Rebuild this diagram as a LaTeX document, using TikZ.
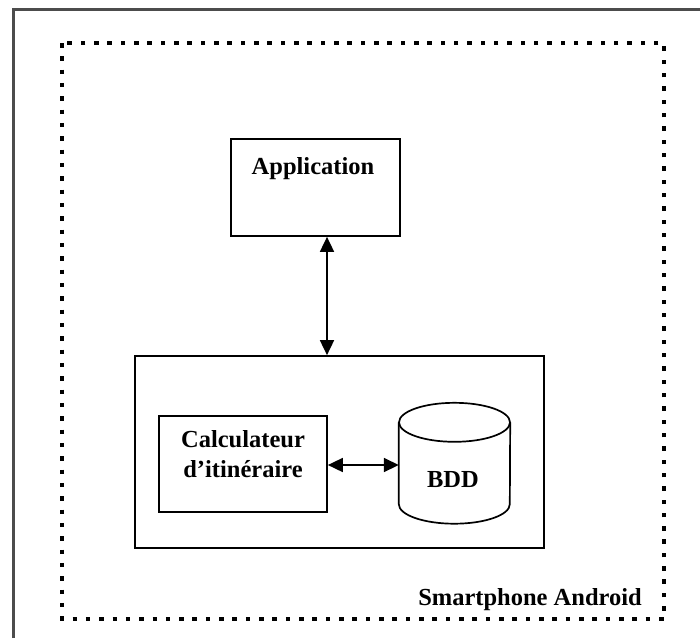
\documentclass[tikz,border=0pt]{standalone}
\usepackage{fontspec}
\setmainfont{Liberation Serif}
\usetikzlibrary{arrows.meta}
\begin{document}
\begin{tikzpicture}[x=1pt,y=1pt,
 box/.style={draw, line width=1.7pt, inner sep=0pt},
 lbl/.style={font=\fontsize{24.5}{30}\selectfont\bfseries, inner sep=0pt, anchor=base},
 link/.style={line width=1.7pt, {Triangle[length=15pt,width=14pt]}-{Triangle[length=15pt,width=14pt]}},
 cyl/.style={line width=1.7pt},
]
\useasboundingbox (0,0) rectangle (700,-638);
% outer frame (clipped at right and bottom)
\draw[line width=3pt, color=black!70] (13,-638) -- (13,-9) -- (700,-9);
% phone boundary
\draw[line width=4.5pt, dash pattern=on 4.5pt off 8.83pt] (62,-43) rectangle (664,-619);
% boxes
\node[box, minimum width=169pt, minimum height=97pt] (app) at (315.5,-187.5) {};
\node[box, minimum width=409pt, minimum height=192pt] (core) at (339.5,-452) {};
\node[box, minimum width=168pt, minimum height=96pt] (calc) at (243,-464) {};
\node[inner sep=0pt, minimum width=111pt, minimum height=120.5pt] (bdd) at (454.5,-463.25) {};
\draw[cyl] (bdd.north west) ++(0,-19.5) -- ([yshift=19.5pt]bdd.south west)
  arc[start angle=180, end angle=360, x radius=55.5, y radius=19.5]
  -- ([yshift=-19.5pt]bdd.north east);
\draw[cyl] ([yshift=-19.5pt]bdd.north) ellipse [x radius=55.5, y radius=19.5];
% texts
\node[lbl] (tapp) at (313,-174) {Application};
\node[lbl] (tcalc1) at (243,-447) {Calculateur};
\node[lbl] (tcalc2) at (243,-477) {d’itinéraire};
\node[lbl] (tbdd) at (453,-487) {BDD};
\node[lbl] (tphone) at (530,-605) {Smartphone Android};
% connectors
\draw[link] ([xshift=11.5pt]app.south) -- ([xshift=11.5pt]app.south |- core.north);
\draw[link] ([yshift=-1pt]calc.east) -- ([yshift=-1pt]calc.east -| bdd.west);
\end{tikzpicture}
\end{document}
